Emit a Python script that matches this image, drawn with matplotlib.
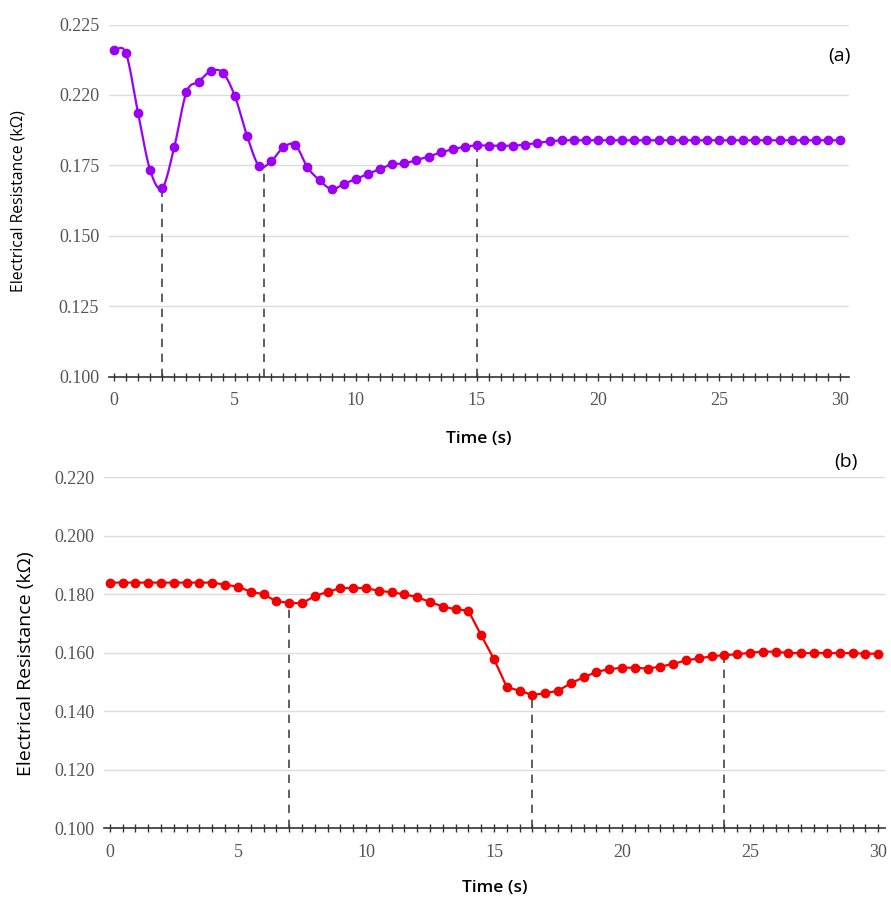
import numpy as np
import matplotlib.pyplot as plt
from matplotlib.ticker import FixedLocator, FixedFormatter, MultipleLocator

# sample times (s), one reading every 0.5 s
time_s = np.arange(61) * 0.5

# panel (a) resistance (kOhm)
resistance_a = [0.2159, 0.2148, 0.1937, 0.1733, 0.1670, 0.1816, 0.2010, 0.2047, 0.2084, 0.2079,
                0.1996, 0.1856, 0.1748, 0.1765, 0.1814, 0.1822, 0.1743, 0.1697, 0.1666, 0.1684,
                0.1702, 0.1720, 0.1737, 0.1754, 0.1757, 0.1769, 0.1781, 0.1796, 0.1807, 0.1816,
                0.1821, 0.1820, 0.1820, 0.1820, 0.1824, 0.1830, 0.1835] + [0.1839] * 24

# panel (b) resistance (kOhm)
resistance_b = [0.1840] * 9 + [0.1833, 0.1826, 0.1809, 0.1800, 0.1776, 0.1771, 0.1769, 0.1794,
                0.1808, 0.1821, 0.1821, 0.1821, 0.1812, 0.1807, 0.1800, 0.1790, 0.1774, 0.1758,
                0.1749, 0.1744, 0.1660, 0.1578, 0.1483, 0.1470, 0.1456, 0.1462, 0.1470, 0.1496,
                0.1516, 0.1535, 0.1544, 0.1549, 0.1549, 0.1546, 0.1553, 0.1562, 0.1574, 0.1581,
                0.1588, 0.1592, 0.1595, 0.1600, 0.1604, 0.1604, 0.1599, 0.1599, 0.1599, 0.1599,
                0.1599, 0.1599, 0.1597, 0.1597]

# times marked with dashed drop lines
marks_a = [2.0, 6.2, 15.0]
marks_b = [7.0, 16.5, 24.0]

# y ticks and their printed labels
yticks_a = [0.100, 0.125, 0.150, 0.175, 0.200, 0.225]
ylabels_a = ['0.100', '0.125', '0.150', '0.175', '0.220', '0.225']
yticks_b = [0.100, 0.120, 0.140, 0.160, 0.180, 0.200, 0.220]
ylabels_b = ['0.100', '0.120', '0.140', '0.160', '0.180', '0.200', '0.220']

PURPLE = '#9B00F5'
RED = '#F50000'
TICK_GREY = '#555555'


def smooth(x, y, n=12):
	# catmull-rom curve through the readings, only for drawing the line
	x = np.asarray(x, float)
	y = np.asarray(y, float)
	xp = np.concatenate([[2 * x[0] - x[1]], x, [2 * x[-1] - x[-2]]])
	yp = np.concatenate([[y[0]], y, [y[-1]]])
	xs, ys = [], []
	s = np.linspace(0, 1, n, endpoint=False)
	for i in range(1, len(xp) - 2):
		p0, p1, p2, p3 = yp[i - 1], yp[i], yp[i + 1], yp[i + 2]
		m1 = (p2 - p0) / 2
		m2 = (p3 - p1) / 2
		h00 = 2 * s ** 3 - 3 * s ** 2 + 1
		h10 = s ** 3 - 2 * s ** 2 + s
		h01 = -2 * s ** 3 + 3 * s ** 2
		h11 = s ** 3 - s ** 2
		ys.extend(h00 * p1 + h10 * m1 + h01 * p2 + h11 * m2)
		xs.extend(xp[i] + s * (xp[i + 1] - xp[i]))
	xs.append(x[-1])
	ys.append(y[-1])
	return np.array(xs), np.array(ys)


def style_axes(ax, yticks, ylabels, ymax, xlim, ylabel_size, xlabel_pad):
	ax.set_xlim(*xlim)
	ax.set_ylim(0.100, ymax)
	for side in ['left', 'top', 'right']:
		ax.spines[side].set_visible(False)
	ax.spines['bottom'].set_color('#333333')
	ax.spines['bottom'].set_linewidth(1.2)
	ax.yaxis.set_major_locator(FixedLocator(yticks))
	ax.yaxis.set_major_formatter(FixedFormatter(ylabels))
	ax.xaxis.set_major_locator(MultipleLocator(5))
	ax.xaxis.set_minor_locator(MultipleLocator(0.5))
	ax.tick_params(axis='y', length=0, pad=7, labelsize=13, labelcolor=TICK_GREY)
	ax.tick_params(axis='x', which='both', direction='inout', length=6, width=1,
	               color='#333333', pad=8, labelsize=13, labelcolor=TICK_GREY)
	for lab in ax.get_xticklabels() + ax.get_yticklabels():
		lab.set_family('Liberation Serif')
	for y in yticks[1:]:
		ax.axhline(y, color='#dcdcdc', lw=1, zorder=0)
	ax.set_ylabel('Electrical Resistance (k\u03a9)', family='Open Sans', fontsize=ylabel_size)
	ax.set_xlabel('Time (s)', family='Open Sans', fontsize=12.5, fontweight='semibold',
	              labelpad=xlabel_pad)


fig = plt.figure(figsize=(8.91, 8.98), dpi=100)

# panel (a)
ax1 = fig.add_axes([0.1223, 0.5805, 0.8306, 0.3922])
style_axes(ax1, yticks_a, ylabels_a, 0.225, (-0.2, 30.37), 11.3, 16)
sx, sy = smooth(time_s, resistance_a)
ax1.plot(sx, sy, color=PURPLE, lw=1.6, zorder=3)
ax1.plot(time_s, resistance_a, 'o', color=PURPLE, ms=6, zorder=4)
for t in marks_a:
	ax1.vlines(t, 0.100, np.interp(t, sx, sy), colors='#444444', linestyles=(0, (5, 4)), lw=1.2, zorder=2)
ax1.yaxis.set_label_coords(-0.111, 0.5)
fig.text(0.955, 0.938, '(a)', family='Open Sans', fontsize=14, ha='right', va='center')

# panel (b)
ax2 = fig.add_axes([0.1167, 0.0776, 0.8766, 0.3909])
style_axes(ax2, yticks_b, ylabels_b, 0.220, (-0.23, 30.27), 14, 14)
ax2.plot(time_s, resistance_b, '-o', color=RED, lw=1.6, ms=6, zorder=4)
for t in marks_b:
	ax2.vlines(t, 0.100, np.interp(t, time_s, resistance_b), colors='#444444',
	           linestyles=(0, (5, 4)), lw=1.2, zorder=2)
ax2.yaxis.set_label_coords(-0.088, 0.47)
fig.text(0.963, 0.486, '(b)', family='Open Sans', fontsize=14, ha='right', va='center',
         bbox=dict(facecolor='white', edgecolor='none', pad=2))

fig.savefig('out.png', dpi=100)
